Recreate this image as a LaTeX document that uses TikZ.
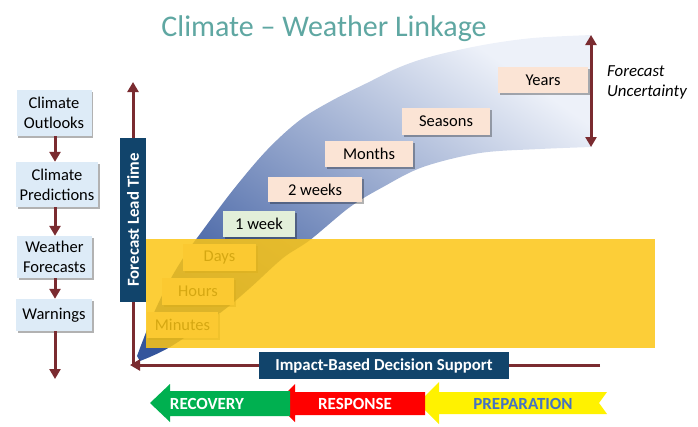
\documentclass[tikz,border=0pt]{standalone}
\usepackage{fontspec}
\setmainfont{Carlito}
\usetikzlibrary{arrows.meta,shadows}
\definecolor{titlecol}{HTML}{5FA7A2}
\definecolor{boxblue}{HTML}{DDEBF7}
\definecolor{navy}{HTML}{11446B}
\definecolor{peach}{HTML}{FBE4D5}
\definecolor{lgreen}{HTML}{E2EFD9}
\definecolor{yel}{HTML}{FBC515}
\definecolor{bandDark}{HTML}{34559C}
\definecolor{bandLight}{HTML}{EDF1F9}
\definecolor{mymaroon}{HTML}{7A2B30}
\definecolor{prepblue}{HTML}{4472C4}
\definecolor{recgreen}{HTML}{00B050}
\begin{document}
\begin{tikzpicture}[x=1pt,y=-1pt,
  shadowed/.style={drop shadow={shadow xshift=1.8pt,shadow yshift=-1.8pt,opacity=.3,fill=black}},
  lbox/.style={fill=boxblue, align=center, font=\fontsize{16.5}{20}\selectfont, inner sep=0pt, shadowed},
  tbox/.style={fill=peach, font=\fontsize{16.5}{18}\selectfont, inner sep=0pt, minimum height=26pt, shadowed},
  navybox/.style={fill=navy, text=white, font=\bfseries\fontsize{16.8}{18}\selectfont, inner sep=0pt},
  marrow/.style={draw=mymaroon, line width=3pt, -{Triangle[width=11pt,length=10pt]}},
  darrow/.style={draw=mymaroon, line width=3pt, {Triangle[width=11pt,length=10pt]}-{Triangle[width=11pt,length=10pt]}},
  arrtext/.style={font=\bfseries\fontsize{17}{18}\selectfont},
]
\useasboundingbox (0,0) rectangle (698,426);

% title
\node[text=titlecol, font=\fontsize{30}{36}\selectfont, anchor=base] (title) at (324,36) {Climate – Weather Linkage};

% uncertainty band
\shade[shading=axis, top color=bandLight, bottom color=bandDark, shading angle=-35]
  plot[smooth, tension=0.55] coordinates {(137,356) (153,315) (170,280) (187,252) (200,234) (233,190) (267,150) (300,120) (333,100) (367,83) (400,67) (433,56) (483,45) (533,38) (592,35)}
  -- plot[smooth, tension=0.55] coordinates {(592,147) (540,149) (480,153) (423,167) (383,187) (350,207) (310,240) (283,258) (250,288) (220,313) (170,347) (140,361)}
  -- cycle;

% time-scale boxes
\node[tbox, minimum width=90pt] (years) at (543,80) {Years};
\node[tbox, minimum width=88pt, minimum height=27pt] (seasons) at (446,121.5) {Seasons};
\node[tbox, minimum width=88pt] (months) at (369,154) {Months};
\node[tbox, minimum width=94pt, minimum height=25pt] (twoweeks) at (315,189.5) {2 weeks};
\node[tbox, fill=lgreen, minimum width=72pt] (oneweek) at (259,224) {1 week};
\node[tbox, minimum width=73pt, minimum height=27pt] (days) at (219.5,257.5) {Days};
\node[tbox, minimum width=72pt, minimum height=27pt] (hours) at (198,291.5) {Hours};
\node[tbox, minimum width=71pt] (minutes) at (182.5,325) {Minutes};

% yellow impact area
\fill[yel, opacity=.85] (146,239) rectangle (655,348);

% axes
\coordinate (corner) at (133,365);
\coordinate (ytop) at (133,82);
\coordinate (xend) at (600,365);
\coordinate (xtip) at (130,365);
\draw[marrow] (corner) -- (ytop);
\draw[marrow] (xend) -- (xtip);

\node[navybox, rotate=90, minimum width=164pt, minimum height=26pt] (flt) at (133,220) {Forecast Lead Time};
\node[navybox, minimum width=250pt, minimum height=27pt] (ibds) at (384,365.5) {Impact-Based Decision Support};

% left chain
\node[lbox, minimum width=75pt, minimum height=46pt] (co) at (54,113) {Climate\\Outlooks};
\node[lbox, minimum width=82pt, minimum height=45pt] (cp) at (57,184.5) {Climate\\Predictions};
\node[lbox, minimum width=75pt, minimum height=42pt] (wf) at (54.5,257) {Weather\\Forecasts};
\node[lbox, minimum width=76pt, minimum height=32pt] (wn) at (54,315) {Warnings};
\coordinate (chainend) at (55,379);
\draw[marrow] (co.south -| 55,0) -- (cp.north -| 55,0);
\draw[marrow] (cp.south -| 55,0) -- (wf.north -| 55,0);
\draw[marrow] (wf.south -| 55,0) -- (wn.north -| 55,0);
\draw[marrow] (wn.south -| 55,0) -- (chainend);

% forecast uncertainty
\coordinate (ut) at (591,35);
\coordinate (ub) at (591,147);
\draw[darrow] (ub) -- (ut);
\node[anchor=west, align=left, font=\itshape\fontsize{16.8}{20}\selectfont, inner sep=0pt] (unc) at (607,82) {Forecast\\Uncertainty};

% bottom arrows
\fill[yellow] (418,403) -- (439,382) -- (439,392) -- (607,392) -- (599,403) -- (607,414) -- (439,414) -- (439,424) -- cycle;
\fill[red] (276,403) -- (295,384) -- (295,392) -- (425,392) -- (425,415) -- (295,415) -- (295,422) -- cycle;
\fill[recgreen] (150,403) -- (170,384) -- (170,391) -- (290,391) -- (290,416) -- (170,416) -- (170,422) -- cycle;
\node[arrtext, text=white] (rec) at (207,404) {RECOVERY};
\node[arrtext, text=white] (resp) at (355,404) {RESPONSE};
\node[arrtext, text=prepblue] (prep) at (523,404) {PREPARATION};
\end{tikzpicture}
\end{document}
